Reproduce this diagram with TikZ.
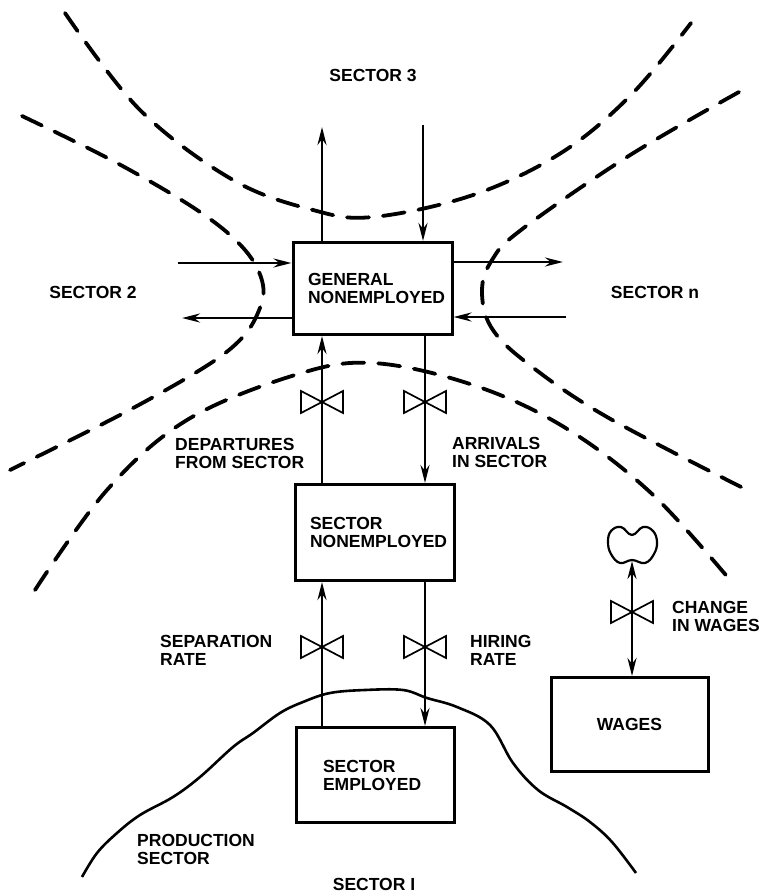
\documentclass[tikz,border=0pt]{standalone}
\usepackage{fontspec}
\setmainfont{Liberation Sans}
\usetikzlibrary{arrows.meta}

\tikzset{
  valve/.pic={
    \draw[line width=1.7pt, line join=miter] (0,0) -- (-21,-11) -- (-21,11) -- cycle;
    \draw[line width=1.7pt, line join=miter] (0,0) -- (21,-11) -- (21,11) -- cycle;
  }
}

\begin{document}
\begin{tikzpicture}[
  x=1pt, y=-1pt,
  font=\fontsize{17.5}{18}\selectfont\bfseries,
  level/.style={rectangle, draw, line width=3pt, inner sep=0pt, align=left},
  flow/.style={-{Stealth[length=18pt, width=9pt]}, line width=2.6pt},
  border/.style={line width=3.8pt, dash pattern=on 22pt off 14pt, line cap=round},
  tag/.style={align=left, anchor=west, inner sep=0pt}
]
\useasboundingbox (0,0) rectangle (764,893);

% levels
\node[level, minimum width=159pt, minimum height=92pt, text width=129pt] (gne) at (372.5,288.5) {GENERAL\\NONEMPLOYED};
\node[level, minimum width=159pt, minimum height=96pt, text width=129pt] (sne) at (374.5,532.5) {SECTOR\\NONEMPLOYED};
\node[level, minimum width=158pt, minimum height=95pt, text width=104pt] (se) at (375,775) {SECTOR\\EMPLOYED};
\node[level, minimum width=157pt, minimum height=94pt, align=center] (wages) at (629.5,724.5) {WAGES};

% sector names
\node (s3) at (373,75) {SECTOR 3};
\node (s2) at (93,292) {SECTOR 2};
\node (sn) at (655,292) {SECTOR n};
\node (s1) at (374,884) {SECTOR I};

% rate labels
\node[tag] (dep) at (175,453) {DEPARTURES\\FROM SECTOR};
\node[tag] (arr) at (452,452) {ARRIVALS\\IN SECTOR};
\node[tag] (sep) at (160,650) {SEPARATION\\RATE};
\node[tag] (hir) at (470,650) {HIRING\\RATE};
\node[tag] (chw) at (672,616) {CHANGE\\IN WAGES};
\node[tag] (prod) at (137,849) {PRODUCTION\\SECTOR};

% valves
\coordinate (vdep) at (322,402);
\coordinate (varr) at (425,402);
\coordinate (vsep) at (322,647);
\coordinate (vhir) at (425,647);
\coordinate (vwag) at (632,612);
\foreach \v in {vdep,varr,vsep,vhir,vwag}
  \pic at (\v) {valve};

% free ends
\coordinate (out3) at (322,127);
\coordinate (in3) at (423,125);
\coordinate (in2) at (178,263);
\coordinate (out2) at (182,318);
\coordinate (outn) at (563,262);
\coordinate (inn) at (566,317);

\draw[flow] (out3 |- gne.north) -- (out3);
\draw[flow] (in3) -- (in3 |- gne.north);
\draw[flow] (in2) -- (in2 -| gne.west);
\draw[flow] (out2 -| gne.west) -- (out2);
\draw[flow] (outn -| gne.east) -- (outn);
\draw[flow] (inn) -- (inn -| gne.east);

\draw[flow] (vdep |- sne.north) -- (vdep |- gne.south);
\draw[flow] (varr |- gne.south) -- (varr |- sne.north);
\draw[flow] (vsep |- se.north) -- (vsep |- sne.south);
\draw[flow] (vhir |- sne.south) -- (vhir |- se.north);

% wages source
\coordinate (cloud) at (632,545);
\coordinate (cloudbot) at (632,561);
\draw[line width=2.2pt, shift={(cloud)}] plot[smooth cycle, tension=0.7] coordinates
  {(0,15) (13,18) (22,9) (25,-3) (21,-14) (11,-18) (0,-10) (-11,-18) (-21,-14) (-24,-3) (-21,9) (-12,18)};
\draw[{Stealth[length=18pt, width=9pt]}-{Stealth[length=18pt, width=9pt]}, line width=2.6pt]
  (cloudbot) -- (cloudbot |- wages.north);

% sector borders
\draw[border] plot[smooth, tension=0.6] coordinates
  {(65,13) (140,110) (233,180) (313,210) (373,217) (473,195) (561,153) (631,95) (691,23)};
\draw[border] plot[smooth, tension=0.6] coordinates
  {(22,116) (117,163) (200,212) (245,250) (263,285) (257,315) (238,342) (200,370) (120,415) (10,470)};
\draw[border] plot[smooth, tension=0.6] coordinates
  {(739,92) (627,157) (521,230) (492,260) (482,290) (491,327) (527,363) (607,417) (751,492)};
\draw[border] plot[smooth, tension=0.6] coordinates
  {(35,590) (107,490) (187,420) (295,375) (373,363) (473,385) (564,427) (651,493) (730,580)};

% production sector
\draw[line width=2.6pt] plot[smooth, tension=0.6] coordinates
  {(82,877) (97,853) (117,833) (140,815) (173,797) (200,777) (233,747) (253,733) (280,713)
   (303,702) (330,693) (365,690) (403,690) (427,698) (457,707) (490,725) (513,763)
   (538,790) (567,807) (590,822) (612,842) (636,873)};
\end{tikzpicture}
\end{document}
